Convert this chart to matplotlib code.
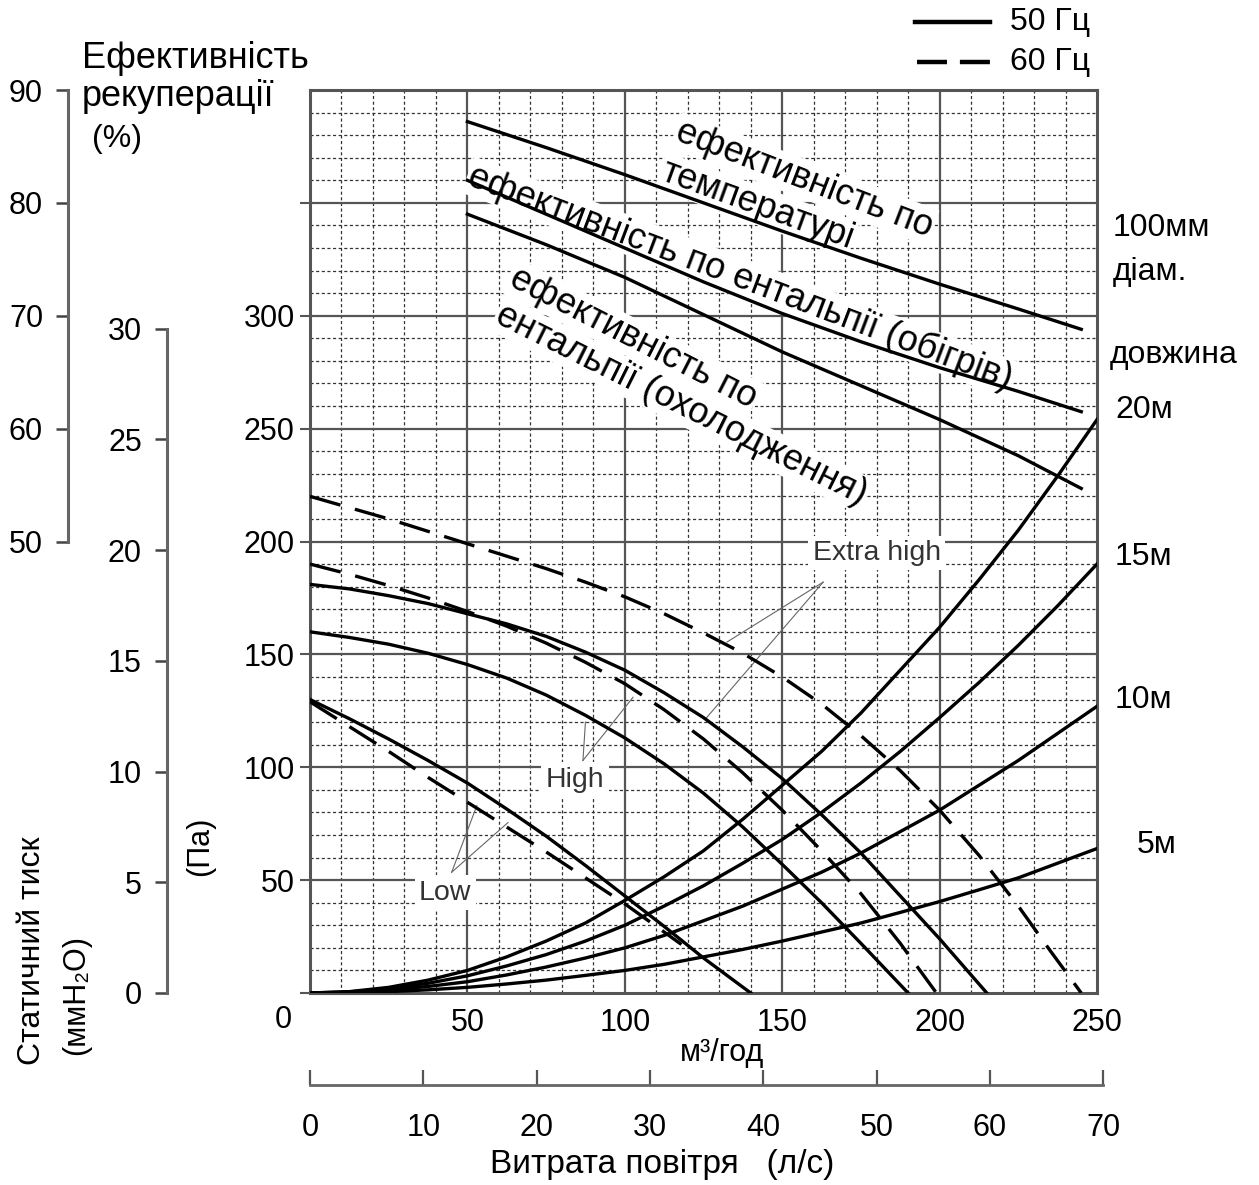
import matplotlib
matplotlib.use("Agg")
import matplotlib.pyplot as plt
from matplotlib.lines import Line2D

plt.rcParams["font.family"] = ["Liberation Sans", "DejaVu Sans"]

# ---- data ----
# duct system curves (Pa) vs air flow (m3/h)
duct_flow = [0, 12.5, 25, 37.5, 50, 62.5, 75, 87.5, 100, 112.5, 125, 137.5,
             150, 162.5, 175, 187.5, 200, 212.5, 225, 237.5, 250]
duct_5m = [0, 0.15, 0.6, 1.4, 2.5, 4, 5.7, 7.8, 10, 12.7, 16, 19.3, 23, 27,
           31, 35.7, 40.5, 45.7, 51, 57.5, 64]
duct_10m = [0, 0.3, 1.3, 2.9, 5, 8, 11.5, 15.5, 20, 25.5, 32, 38.5, 46, 53.5,
            62, 71.5, 81, 92, 103, 115, 127]
duct_15m = [0, 0.5, 1.9, 4.3, 7.6, 12, 17, 23, 30, 38.5, 47.5, 57.5, 68, 80,
            93, 107, 122, 137.5, 154, 171.5, 190]
duct_20m = [0, 0.6, 2.5, 5.7, 10, 16, 23, 31, 41, 51.5, 63, 77, 92, 107, 124,
            143, 162, 183, 205, 229, 254]
duct_labels = ["5м", "10м", "15м", "20м"]

# fan curves, 50 Hz (solid) and 60 Hz (dashed)
low50_x = [0, 12.5, 25, 37.5, 50, 62.5, 75, 87.5, 100, 112.5, 125, 140]
low50_p = [130, 121.5, 112.5, 103, 93, 81.5, 69.5, 56.5, 43, 29.5, 15.5, 0]
low60_x = [0, 12.5, 25, 37.5, 50, 62.5, 75, 87.5, 100, 118]
low60_p = [129, 118, 107, 95.5, 84.5, 73.5, 62.5, 51, 39.5, 21.5]
high50_x = [0, 12.5, 25, 37.5, 50, 62.5, 75, 87.5, 100, 112.5, 125, 137.5,
            150, 162.5, 175, 190]
high50_p = [160, 157.5, 154.5, 150.5, 145.5, 139.5, 132, 123, 113, 101.5,
            88.5, 73.5, 57, 40, 22, 0]
high60_x = [0, 12.5, 25, 37.5, 50, 62.5, 75, 87.5, 100, 112.5, 125, 137.5,
            150, 162.5, 175, 187.5, 199]
high60_p = [190, 185.5, 180.5, 175, 169, 162.5, 155, 146.5, 137, 125.5,
            112.5, 97.5, 81, 63, 44, 22, 0]
xhigh50_x = [0, 12.5, 25, 37.5, 50, 62.5, 75, 87.5, 100, 112.5, 125, 137.5,
             150, 162.5, 175, 187.5, 200, 215]
xhigh50_p = [181, 179, 176, 172.5, 168, 163.5, 158, 151, 143, 133, 122, 109,
             95, 79, 62, 43, 24, 0]
xhigh60_x = [0, 12.5, 25, 37.5, 50, 62.5, 75, 87.5, 100, 112.5, 125, 137.5,
             150, 162.5, 175, 187.5, 200, 212.5, 225, 235, 245]
xhigh60_p = [220, 215, 210, 204.5, 199, 193.5, 188, 182, 175.5, 168, 159.5,
             150.5, 140, 128, 114, 98.5, 81, 61, 38.5, 19, 0]

# recovery efficiency (%)
eff_flow = [50, 75, 100, 125, 150, 175, 200, 225, 245]
eff_temp = [87.2, 84.9, 82.5, 80.0, 77.5, 75.1, 72.8, 70.6, 68.8]
eff_heat = [82.0, 79.0, 76.0, 73.0, 70.2, 67.7, 65.4, 63.3, 61.5]
eff_cool = [79.0, 76.3, 73.4, 70.1, 66.8, 63.8, 60.8, 57.6, 54.7]

pa_ticks = [50, 100, 150, 200, 250, 300]
flow_ticks = [50, 100, 150, 200, 250]
eff_ticks = [50, 60, 70, 80, 90]
mm_ticks = [0, 5, 10, 15, 20, 25, 30]
ls_ticks = [0, 10, 20, 30, 40, 50, 60, 70]


def pa_to_eff(p):
    return 10 + p / 5.0


def eff_to_pa(e):
    return (e - 10) * 5.0


W, H = 1259, 1185
fig = plt.figure(figsize=(W / 100, H / 100), dpi=100)


def fx(px):
    return px / W


def fy(py):
    return 1 - py / H


ax = fig.add_axes([fx(310), fy(993), (1097 - 310) / W, (993 - 90) / H])
ax.set_xlim(0, 250)
ax.set_ylim(0, 400)

# paper grid
minor = dict(color="#333333", lw=0.9, ls=(0, (2.5, 2)), zorder=0.5)
major = dict(color="#555555", lw=1.6, zorder=0.6)
for v in range(10, 250, 10):
    ax.axvline(v, **(major if v % 50 == 0 else minor))
for h in range(10, 400, 10):
    ax.axhline(h, **(major if h % 50 == 0 else minor))

for s in ax.spines.values():
    s.set_color("#555555")
    s.set_linewidth(2.2)

ax.set_xticks(flow_ticks)
ax.set_xticklabels([str(t) for t in flow_ticks])
ax.set_yticks([0] + pa_ticks + [350])
ax.set_yticklabels([""] + [str(t) for t in pa_ticks] + [""])
ax.tick_params(axis="x", length=0, pad=11, labelsize=22)
ax.tick_params(axis="y", length=7, width=1.5, color="#555555", pad=4, labelsize=22)
ax.annotate("0", xy=(0, 0), xytext=(-27, -27), textcoords="offset pixels",
            ha="center", va="center", fontsize=22, annotation_clip=False)

# curves
lw = 2.4
dash = (0, (9.5, 4.5))
for y in [duct_5m, duct_10m, duct_15m, duct_20m]:
    ax.plot(duct_flow, y, color="k", lw=lw, zorder=3)
ax.plot(low50_x, low50_p, color="k", lw=lw, zorder=3)
ax.plot(high50_x, high50_p, color="k", lw=lw, zorder=3)
ax.plot(xhigh50_x, xhigh50_p, color="k", lw=lw, zorder=3)
ax.plot(low60_x, low60_p, color="k", lw=lw, ls=dash, zorder=3)
ax.plot(high60_x, high60_p, color="k", lw=lw, ls=dash, zorder=3)
ax.plot(xhigh60_x, xhigh60_p, color="k", lw=lw, ls=dash, zorder=3)
for e in [eff_temp, eff_heat, eff_cool]:
    ax.plot(eff_flow, [eff_to_pa(v) for v in e], color="k", lw=lw, zorder=3)

# efficiency curve labels
wbox = dict(facecolor="white", edgecolor="none", pad=1)
lab = dict(fontsize=26, ha="center", va="center", rotation_mode="anchor",
           bbox=wbox, zorder=2)
ax.text(157, 360.5, "ефективність по", rotation=-21, **lab)
ax.text(142, 349, "температурі", rotation=-20, **lab)
ax.text(136.6, 317, "ефективність по ентальпії (обігрів)", rotation=-20.7, **lab)
ax.text(102.6, 290, "ефективність по", rotation=-27, **lab)
ax.text(118, 260.5, "ентальпії (охолодження)", rotation=-26.5, **lab)

# speed annotations
small = dict(fontsize=20.5, ha="center", va="center", color="#333333",
             bbox=dict(facecolor="white", edgecolor="none", pad=3), zorder=2.5)
thin = dict(color="#666666", lw=0.8, zorder=2.4)
ax.text(180, 195, "Extra high", **small)
ax.plot([163, 132.5], [182, 155.5], **thin)
ax.plot([163, 126], [182, 122], **thin)
ax.text(84.2, 94.5, "High", **small)
ax.plot([86.7, 87.5], [103, 120], **thin)
ax.plot([86.7, 102.6], [103, 131], **thin)
ax.text(42.9, 44.5, "Low", **small)
ax.plot([45, 53], [53.5, 83], **thin)
ax.plot([45, 62.9], [53.5, 75.5], **thin)

# efficiency scale
eff_ax = ax.secondary_yaxis((68 - 310) / 787, functions=(pa_to_eff, eff_to_pa))
eff_ax.set_yticks(eff_ticks)
eff_ax.spines["left"].set_bounds(50, 90)
eff_ax.spines["left"].set_color("#666666")
eff_ax.spines["left"].set_linewidth(2.2)
eff_ax.tick_params(length=9, width=1.8, color="#444444", pad=9, labelsize=22)

# mmH2O scale
mm_ax = ax.secondary_yaxis((167 - 310) / 787,
                           functions=(lambda p: p / 9.81, lambda m: m * 9.81))
mm_ax.set_yticks(mm_ticks)
mm_ax.spines["left"].set_bounds(0, 30)
mm_ax.spines["left"].set_color("#666666")
mm_ax.spines["left"].set_linewidth(2.2)
mm_ax.tick_params(length=9, width=1.8, color="#444444", pad=9, labelsize=22)

# l/s scale (70 l/s = 252 m3/h)
ls_ax = fig.add_axes([fx(310), fy(1085), 787 * 252 / 250 / W, 0.0001])
ls_ax.set_xlim(0, 70)
ls_ax.set_facecolor("none")
for k in ["top", "left", "right"]:
    ls_ax.spines[k].set_visible(False)
ls_ax.spines["bottom"].set_color("#666666")
ls_ax.spines["bottom"].set_linewidth(2)
ls_ax.set_yticks([])
ls_ax.set_xticks(ls_ticks)
ls_ax.tick_params(axis="x", direction="in", length=11, width=1.6,
                  color="#555555", pad=20, labelsize=22)

# axis titles
fig.text(fx(722), fy(1053), "м³/год", fontsize=22, ha="center", va="center")
fig.text(fx(662), fy(1165), "Витрата повітря   (л/с)", fontsize=24,
         ha="center", va="center")
fig.text(fx(82), fy(58), "Ефективність", fontsize=26, ha="left", va="center")
fig.text(fx(82), fy(97), "рекуперації", fontsize=26, ha="left", va="center")
fig.text(fx(92), fy(139), "(%)", fontsize=23, ha="left", va="center")
fig.text(fx(32), fy(951), "Статичний тиск", fontsize=23, rotation=90,
         ha="center", va="center")
fig.text(fx(76), fy(995), "(ммH₂O)", fontsize=22, rotation=90,
         ha="center", va="center")
fig.text(fx(200), fy(846), "(Па)", fontsize=22, rotation=90,
         ha="center", va="center")

# right side labels
right = dict(fontsize=23, ha="left", va="center")
fig.text(fx(1113), fy(228), "100мм", **right)
fig.text(fx(1113), fy(272), "діам.", **right)
fig.text(fx(1110), fy(355), "довжина", **right)
for name, py, px in zip(duct_labels, [845, 700, 557, 410], [1137, 1115, 1115, 1115]):
    fig.text(fx(px), fy(py), name, **right)

# legend
fig.add_artist(Line2D([fx(915), fx(990)], [fy(22), fy(22)], color="k", lw=3.2,
                      transform=fig.transFigure))
fig.add_artist(Line2D([fx(917), fx(990)], [fy(62), fy(62)], color="k", lw=3.2,
                      ls=(0, (6.75, 2.9)), transform=fig.transFigure))
fig.text(fx(1010), fy(22), "50 Гц", fontsize=23, ha="left", va="center")
fig.text(fx(1010), fy(62), "60 Гц", fontsize=23, ha="left", va="center")

fig.savefig("out.png", dpi=100, facecolor="white")
